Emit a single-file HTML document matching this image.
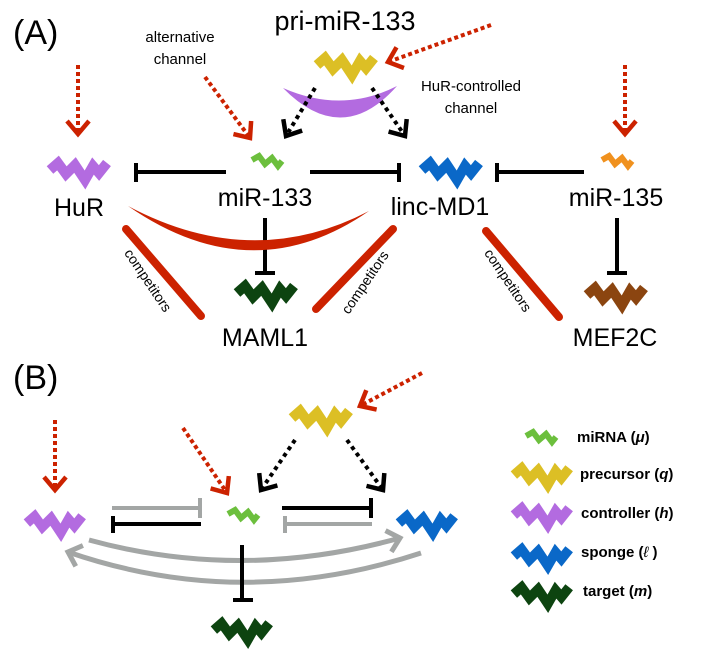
<!DOCTYPE html>
<html><head><meta charset="utf-8"><style>
html,body{margin:0;padding:0;background:#fff;}
svg{display:block;font-family:"Liberation Sans",sans-serif;}
</style></head><body>
<svg width="708" height="650" viewBox="0 0 708 650" xmlns="http://www.w3.org/2000/svg">
<defs>
<symbol id="z" viewBox="0 0 66 30" overflow="visible"><polyline points="4,13 12,6 20,17 29,8 39,23 47,9 53,16 61,6" fill="none" stroke="currentColor" stroke-width="10" stroke-linejoin="miter" stroke-miterlimit="3"/></symbol>
<symbol id="s" viewBox="0 0 36 17" overflow="visible"><polyline points="3,7 10,3 16,11 23,5 29,13 33,8" fill="none" stroke="currentColor" stroke-width="6" stroke-linejoin="miter"/></symbol>
<marker id="ar" markerUnits="userSpaceOnUse" markerWidth="40" markerHeight="40" refX="0" refY="0" viewBox="-20 -20 40 40" orient="auto" overflow="visible"><polyline points="-13,-11 0,0 -13,11" fill="none" stroke="#cc2200" stroke-width="4.5"/></marker>
<marker id="ak" markerUnits="userSpaceOnUse" markerWidth="40" markerHeight="40" refX="0" refY="0" viewBox="-20 -20 40 40" orient="auto" overflow="visible"><polyline points="-13,-11 0,0 -13,11" fill="none" stroke="#000" stroke-width="4.5"/></marker>
<marker id="ag" markerUnits="userSpaceOnUse" markerWidth="40" markerHeight="40" refX="0" refY="0" viewBox="-20 -20 40 40" orient="auto" overflow="visible"><polyline points="-12,-11 0,0 -12,11" fill="none" stroke="#a3a6a5" stroke-width="5"/></marker>
</defs>

<!-- (A) -->
<text x="13" y="44" font-size="34" font-weight="300">(A)</text>
<text x="345" y="30" font-size="27" text-anchor="middle">pri-miR-133</text>
<text x="180" y="42" font-size="15" text-anchor="middle">alternative</text>
<text x="180" y="64" font-size="15" text-anchor="middle">channel</text>
<text x="471" y="91" font-size="15" text-anchor="middle">HuR-controlled</text>
<text x="471" y="113" font-size="15" text-anchor="middle">channel</text>

<g stroke="#cc2200" stroke-width="4" stroke-dasharray="4 3" fill="none">
<line x1="491" y1="25" x2="388" y2="62" marker-end="url(#ar)"/>
<line x1="205" y1="77" x2="250" y2="138" marker-end="url(#ar)"/>
<line x1="78" y1="65" x2="78" y2="134" marker-end="url(#ar)"/>
<line x1="625" y1="65" x2="625" y2="134" marker-end="url(#ar)"/>
</g>
<use href="#z" x="313" y="52" width="66" height="30" color="#dcbf25"/>
<path d="M283,88 Q342,148 397,86 Q342,114 283,88 Z" fill="#b36be0"/>
<g stroke="#000" stroke-width="4" stroke-dasharray="4 4" fill="none">
<line x1="315" y1="88" x2="286" y2="136" marker-end="url(#ak)"/>
<line x1="372" y1="88" x2="405" y2="136" marker-end="url(#ak)"/>
</g>

<use href="#z" x="46" y="157" width="66" height="30" color="#b36be0"/>
<use href="#s" x="249" y="153" width="36" height="17" color="#6cbf3d"/>
<use href="#z" x="418" y="157" width="66" height="30" color="#0a68c8"/>
<use href="#s" x="599" y="153" width="36" height="17" color="#f0911e"/>
<use href="#z" x="233" y="280" width="66" height="30" color="#0d4410"/>
<use href="#z" x="583" y="282" width="66" height="30" color="#8b4510"/>

<g stroke="#000" stroke-width="4" fill="none">
<line x1="226" y1="172" x2="136" y2="172"/><line x1="136" y1="163" x2="136" y2="182"/>
<line x1="310" y1="172" x2="399" y2="172"/><line x1="399" y1="163" x2="399" y2="182"/>
<line x1="584" y1="172" x2="497" y2="172"/><line x1="497" y1="163" x2="497" y2="182"/>
<line x1="265" y1="218" x2="265" y2="273"/><line x1="255" y1="273" x2="275" y2="273"/>
<line x1="617" y1="218" x2="617" y2="273"/><line x1="607" y1="273" x2="627" y2="273"/>
</g>

<path d="M128,206 Q252,292 369,211 Q252,272 128,206 Z" fill="#cc2200"/>
<g stroke="#cc2200" stroke-width="8" stroke-linecap="round">
<line x1="126" y1="229" x2="201" y2="316"/>
<line x1="393" y1="229" x2="316" y2="309"/>
<line x1="486" y1="231" x2="559" y2="317"/>
</g>
<g font-size="14">
<text transform="translate(144,283) rotate(56)" text-anchor="middle">competitors</text>
<text transform="translate(369,285) rotate(-56)" text-anchor="middle">competitors</text>
<text transform="translate(504,283) rotate(56)" text-anchor="middle">competitors</text>
</g>

<g font-size="25" text-anchor="middle">
<text x="79" y="216">HuR</text>
<text x="265" y="206">miR-133</text>
<text x="440" y="215">linc-MD1</text>
<text x="616" y="206">miR-135</text>
<text x="265" y="346">MAML1</text>
<text x="615" y="346">MEF2C</text>
</g>

<!-- (B) -->
<text x="13" y="389" font-size="34" font-weight="300">(B)</text>
<g stroke="#cc2200" stroke-width="4" stroke-dasharray="4 3" fill="none">
<line x1="422" y1="373" x2="360" y2="406" marker-end="url(#ar)"/>
<line x1="183" y1="428" x2="227" y2="493" marker-end="url(#ar)"/>
<line x1="55" y1="420" x2="55" y2="490" marker-end="url(#ar)"/>
</g>
<use href="#z" x="288" y="405" width="66" height="30" color="#dcbf25"/>
<g stroke="#000" stroke-width="4" stroke-dasharray="4 4" fill="none">
<line x1="295" y1="440" x2="261" y2="490" marker-end="url(#ak)"/>
<line x1="347" y1="440" x2="383" y2="490" marker-end="url(#ak)"/>
</g>
<use href="#z" x="23" y="510" width="64" height="30" color="#b36be0"/>
<use href="#s" x="225" y="507" width="36" height="17" color="#6cbf3d"/>
<use href="#z" x="395" y="510" width="64" height="30" color="#0a68c8"/>
<use href="#z" x="210" y="617" width="64" height="30" color="#0d4410"/>

<g stroke-width="4" fill="none">
<g stroke="#a3a6a5">
<line x1="112" y1="508" x2="200" y2="508"/><line x1="200" y1="498" x2="200" y2="518"/>
<line x1="372" y1="524" x2="285" y2="524"/><line x1="285" y1="516" x2="285" y2="533"/>
</g>
<g stroke="#000">
<line x1="201" y1="524" x2="113" y2="524"/><line x1="113" y1="516" x2="113" y2="533"/>
<line x1="282" y1="508" x2="371" y2="508"/><line x1="371" y1="498" x2="371" y2="518"/>
</g>
</g>
<g stroke="#a3a6a5" stroke-width="5" fill="none">
<path d="M89,540 Q242,582 400,538" marker-end="url(#ag)"/>
<path d="M421,553 Q242,612 68,552" marker-end="url(#ag)"/>
</g>
<g stroke="#000" stroke-width="4">
<line x1="242" y1="545" x2="242" y2="600"/><line x1="233" y1="600" x2="253" y2="600"/>
</g>

<!-- legend -->
<use href="#s" x="523" y="429" width="36" height="17" color="#6cbf3d"/>
<use href="#z" x="510" y="462" width="64" height="30" color="#dcbf25"/>
<use href="#z" x="510" y="502" width="64" height="30" color="#b36be0"/>
<use href="#z" x="510" y="543" width="64" height="30" color="#0a68c8"/>
<use href="#z" x="510" y="581" width="64" height="30" color="#0d4410"/>
<g font-size="15" font-weight="bold">
<text x="577" y="442">miRNA (<tspan font-style="italic">μ</tspan>)</text>
<text x="580" y="479">precursor (<tspan font-style="italic">q</tspan>)</text>
<text x="581" y="518">controller (<tspan font-style="italic">h</tspan>)</text>
<text x="581" y="557">sponge (<tspan font-style="italic" font-weight="normal">ℓ</tspan> )</text>
<text x="583" y="596">target (<tspan font-style="italic">m</tspan>)</text>
</g>
</svg>
</body></html>
